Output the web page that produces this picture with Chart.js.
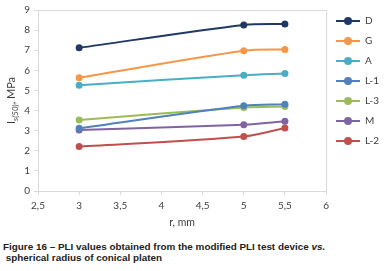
<!DOCTYPE html>
<html>
<head>
<meta charset="utf-8">
<script src="https://cdn.jsdelivr.net/npm/chart.js@4"></script>
<style>
  html, body { margin: 0; padding: 0; background: #fff; }
  #wrap { position: relative; width: 389px; height: 271px; }
  #box { position: absolute; left: 0; top: 0; width: 389px; height: 233px; }
  #caption {
    position: absolute; left: 3px; top: 241px;
    font-family: "Liberation Sans", Arial, sans-serif;
    font-size: 9.9px; font-weight: bold; line-height: 11px; color: #222;
    white-space: nowrap;
  }
</style>
</head>
<body>
<div id="wrap">
  <div id="box"><canvas id="pliChart"></canvas></div>
  <div id="caption">Figure 16 – PLI values obtained from the modified PLI test device <i>vs.</i><br>&nbsp;spherical radius of conical platen</div>
</div>
<script>
// raggio sferico (mm) e valori PLI
const radius = [3, 5, 5.5];
const seriesNames = ['D', 'G', 'A', 'L-1', 'L-3', 'M', 'L-2'];
const valuesD  = [7.12, 8.26, 8.31];
const valuesG  = [5.63, 6.97, 7.04];
const valuesA  = [5.26, 5.76, 5.84];
const valuesL1 = [3.12, 4.24, 4.31];
const valuesL3 = [3.53, 4.15, 4.20];
const valuesM  = [3.03, 3.30, 3.47];
const valuesL2 = [2.21, 2.71, 3.13];
const seriesColors = ['#203864', '#F79646', '#4BACC6', '#4F81BD', '#9BBB59', '#8064A2', '#C0504D'];

const allValues = [valuesD, valuesG, valuesA, valuesL1, valuesL3, valuesM, valuesL2];

// piccola immagine linea+punto per la legenda
function legendMarker(color) {
    const c = document.createElement('canvas');
    c.width = 24; c.height = 10;
    const g = c.getContext('2d');
    g.strokeStyle = color;
    g.lineWidth = 2;
    g.beginPath(); g.moveTo(0, 5); g.lineTo(24, 5); g.stroke();
    g.fillStyle = color;
    g.beginPath(); g.arc(12, 5, 4, 0, Math.PI * 2); g.fill();
    return c;
}
const markers = seriesColors.map(legendMarker);

const datasets = seriesNames.map(function(name, i) {
    return {
        label: name,
        data: radius.map((r, j) => ({ x: r, y: allValues[i][j] })),
        borderColor: seriesColors[i],
        backgroundColor: seriesColors[i],
        borderWidth: 2,
        pointRadius: 3.5,
        pointBorderWidth: 0,
        pointStyle: 'circle',
        tension: 0.3
    };
});

// bordo dell'area del grafico e titolo asse y con pedice
const plotFrame = {
    id: 'plotFrame',
    beforeDatasetsDraw(chart) {
        const a = chart.chartArea, ctx = chart.ctx;
        ctx.save();
        ctx.strokeStyle = '#D9D9D9';
        ctx.lineWidth = 1;
        ctx.strokeRect(a.left + 0.5, a.top + 0.5, a.right - a.left, a.bottom - a.top);
        ctx.restore();
    },
    afterDraw(chart) {
        const a = chart.chartArea, ctx = chart.ctx;
        const parts = [
            { t: 'I', f: '11px Lato, sans-serif', dy: 0 },
            { t: 's(50)', f: 'italic 8px Lato, sans-serif', dy: 3 },
            { t: ', MPa', f: '11px Lato, sans-serif', dy: 0 }
        ];
        ctx.save();
        let total = 0;
        parts.forEach(p => { ctx.font = p.f; p.w = ctx.measureText(p.t).width; total += p.w; });
        ctx.translate(15, (a.top + a.bottom) / 2);
        ctx.rotate(-Math.PI / 2);
        ctx.fillStyle = '#404040';
        ctx.textBaseline = 'alphabetic';
        let x = -total / 2;
        parts.forEach(p => { ctx.font = p.f; ctx.fillText(p.t, x, p.dy); x += p.w; });
        ctx.restore();
    }
};

new Chart(document.getElementById('pliChart'), {
    type: 'line',
    data: { datasets: datasets },
    plugins: [plotFrame],
    options: {
        responsive: true,
        maintainAspectRatio: false,
        animation: false,
        layout: { padding: { top: 6, right: 0, bottom: 0, left: 0 } },
        plugins: {
            legend: {
                position: 'right',
                align: 'start',
                labels: {
                    usePointStyle: true,
                    pointStyleWidth: 24,
                    boxHeight: 8,
                    padding: 10,
                    color: '#404040',
                    font: { family: 'Lato', size: 10 },
                    generateLabels: function(chart) {
                        const items = Chart.defaults.plugins.legend.labels.generateLabels(chart);
                        items.forEach(it => { it.pointStyle = markers[it.datasetIndex]; });
                        return items;
                    }
                }
            },
            tooltip: { enabled: false }
        },
        scales: {
            x: {
                type: 'linear',
                min: 2.5,
                max: 6,
                afterFit: function(scale) { scale.height = 42; },
                ticks: {
                    stepSize: 0.5,
                    padding: 5,
                    color: '#404040',
                    font: { family: 'Lato', size: 10 },
                    callback: v => String(v).replace('.', ',')
                },
                grid: { drawOnChartArea: false, tickLength: 4, color: '#D9D9D9' },
                border: { color: '#D9D9D9' },
                title: {
                    display: true,
                    text: 'r, mm',
                    color: '#404040',
                    font: { family: 'Lato', size: 10.5 },
                    padding: { top: 4, bottom: 4 }
                }
            },
            y: {
                min: 0,
                max: 9,
                afterFit: function(scale) { scale.width = 38; },
                ticks: {
                    stepSize: 1,
                    padding: 4,
                    color: '#404040',
                    font: { family: 'Lato', size: 10 }
                },
                grid: { drawOnChartArea: false, tickLength: 4, color: '#D9D9D9' },
                border: { color: '#D9D9D9' }
            }
        }
    }
});
</script>
</body>
</html>
